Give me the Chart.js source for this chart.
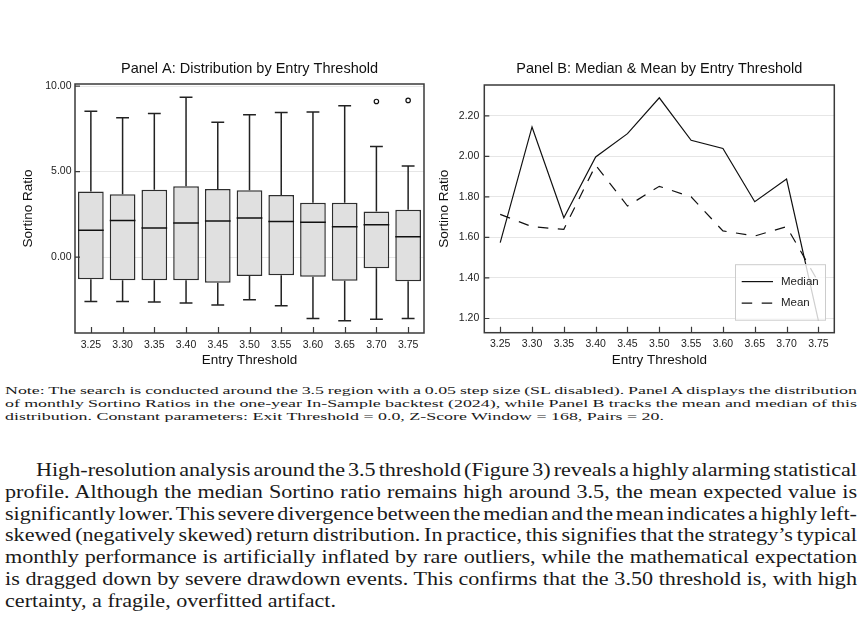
<!DOCTYPE html>
<html>
<head>
<meta charset="utf-8">
<script src="https://cdn.jsdelivr.net/npm/chart.js@4.4.0/dist/chart.umd.min.js"></script>
<style>
html, body { margin: 0; padding: 0; background: #fff; width: 862px; height: 630px; overflow: hidden; }
.panel { position: absolute; top: 50px; width: 431px; height: 320px; }
#wrapA { left: 0; }
#wrapB { left: 431px; }
.txt { position: absolute; left: 5px; font-family: "Liberation Serif", "Times New Roman", serif; color: #1a1a1a; transform-origin: 0 0; }
.txt div { white-space: nowrap; }
.txt .j { text-align: justify; text-align-last: justify; }
#note { top: 384px; font-size: 11px; line-height: 13px; }
#para { top: 460px; font-size: 18px; line-height: 21.8px; }
</style>
</head>
<body>
<div class="panel" id="wrapA"><canvas id="chartA" width="431" height="320"></canvas></div>
<div class="panel" id="wrapB"><canvas id="chartB" width="431" height="320"></canvas></div>

<div class="txt" id="note">
  <div class="j"><span>Note: The search is conducted around the 3.5 region with a 0.05 step size (SL disabled). Panel A displays the distribution</span></div>
  <div class="j"><span>of monthly Sortino Ratios in the one-year In-Sample backtest (2024), while Panel B tracks the mean and median of this</span></div>
  <div><span>distribution. Constant parameters: Exit Threshold = 0.0, Z-Score Window = 168, Pairs = 20.</span></div>
</div>

<div class="txt" id="para">
  <div class="j"><span>High-resolution analysis around the 3.5 threshold (Figure 3) reveals a highly alarming statistical</span></div>
  <div class="j"><span>profile. Although the median Sortino ratio remains high around 3.5, the mean expected value is</span></div>
  <div class="j"><span>significantly lower. This severe divergence between the median and the mean indicates a highly left-</span></div>
  <div class="j"><span>skewed (negatively skewed) return distribution. In practice, this signifies that the strategy’s typical</span></div>
  <div class="j"><span>monthly performance is artificially inflated by rare outliers, while the mathematical expectation</span></div>
  <div class="j"><span>is dragged down by severe drawdown events. This confirms that the 3.50 threshold is, with high</span></div>
  <div><span>certainty, a fragile, overfitted artifact.</span></div>
</div>

<script>
// entry thresholds (x categories)
const thresholds = ['3.25', '3.30', '3.35', '3.40', '3.45', '3.50', '3.55', '3.60', '3.65', '3.70', '3.75'];

// Panel A: monthly Sortino ratio distribution per threshold
const whiskerLow = [-2.60, -2.60, -2.62, -2.68, -2.81, -2.50, -2.85, -3.59, -3.73, -3.63, -3.59];
const q1 = [-1.29, -1.35, -1.35, -1.35, -1.50, -1.11, -1.07, -1.15, -1.39, -0.66, -1.41];
const q3 = [3.83, 3.67, 3.93, 4.14, 3.98, 3.91, 3.63, 3.18, 3.18, 2.66, 2.77];
const whiskerHigh = [8.52, 8.14, 8.40, 9.34, 7.89, 8.32, 8.46, 8.48, 8.85, 6.46, 5.33];
const outliers = [null, null, null, null, null, null, null, null, null, 9.10, 9.16];

// Panel B: median and mean of the distribution
const medianSortino = [1.574, 2.145, 1.697, 1.997, 2.112, 2.289, 2.079, 2.039, 1.776, 1.888, 1.19];
const meanSortino = [1.714, 1.653, 1.640, 1.956, 1.755, 1.852, 1.800, 1.632, 1.607, 1.653, 1.38];

// axis ticks
const ticksA = [0, 5, 10];
const ticksB = [1.2, 1.4, 1.6, 1.8, 2.0, 2.2];

const sans = "'Liberation Sans', Arial, sans-serif";
const ink = '#222';

// box frame around the plot area + inward tick marks
const frame = {
    id: 'frame',
    afterDatasetsDraw: (chart) => {
        const ctx = chart.ctx;
        const a = chart.chartArea;
        const xs = chart.scales.x;
        const ys = chart.scales.y;
        ctx.save();
        ctx.strokeStyle = '#3a3a3a';
        ctx.lineWidth = 1.2;
        ctx.beginPath();
        for (let i = 0; i < xs.ticks.length; i++) {
            let px = Math.round(xs.getPixelForTick(i)) + 0.5;
            ctx.moveTo(px, a.bottom);
            ctx.lineTo(px, a.bottom - 6);
        }
        ys.ticks.forEach(function (t) {
            let py = ys.getPixelForValue(t.value);
            ctx.moveTo(a.left, py);
            ctx.lineTo(a.left + 5, py);
        });
        ctx.stroke();
        ctx.lineWidth = 1.5;
        ctx.strokeRect(a.left, a.top, a.right - a.left, a.bottom - a.top);
        ctx.restore();
    }
};

// whiskers, caps and medians for the box plot
const boxWhiskers = {
    id: 'boxWhiskers',
    beforeDatasetsDraw: (chart) => {
        const ctx = chart.ctx;
        const ys = chart.scales.y;
        const bars = chart.getDatasetMeta(0).data;
        ctx.save();
        ctx.strokeStyle = ink;
        ctx.lineWidth = 1.5;
        ctx.beginPath();
        for (let i = 0; i < thresholds.length; i++) {
            let cx = bars[i].x;
            let half = bars[i].width / 4;
            let yHi = ys.getPixelForValue(whiskerHigh[i]);
            let yLo = ys.getPixelForValue(whiskerLow[i]);
            ctx.moveTo(cx, ys.getPixelForValue(q3[i]));
            ctx.lineTo(cx, yHi);
            ctx.moveTo(cx - half, yHi);
            ctx.lineTo(cx + half, yHi);
            ctx.moveTo(cx, ys.getPixelForValue(q1[i]));
            ctx.lineTo(cx, yLo);
            ctx.moveTo(cx - half, yLo);
            ctx.lineTo(cx + half, yLo);
        }
        ctx.stroke();
        ctx.restore();
    },
    afterDatasetsDraw: (chart) => {
        const ctx = chart.ctx;
        const ys = chart.scales.y;
        const bars = chart.getDatasetMeta(0).data;
        ctx.save();
        ctx.strokeStyle = '#111';
        ctx.lineWidth = 1.5;
        ctx.beginPath();
        for (let i = 0; i < thresholds.length; i++) {
            let py = ys.getPixelForValue(medianSortino[i]);
            ctx.moveTo(bars[i].x - bars[i].width / 2, py);
            ctx.lineTo(bars[i].x + bars[i].width / 2, py);
        }
        ctx.stroke();
        ctx.restore();
    }
};

// framed legend in the lower right of panel B
const legendBox = {
    id: 'legendBox',
    afterDatasetsDraw: (chart) => {
        const ctx = chart.ctx;
        const a = chart.chartArea;
        const w = 91, h = 56.5;
        const left = a.right - 8.3 - w;
        const top = a.bottom - 12 - h;
        ctx.save();
        ctx.fillStyle = 'rgba(255, 255, 255, 0.8)';
        ctx.fillRect(left, top, w, h);
        ctx.strokeStyle = '#cccccc';
        ctx.lineWidth = 1;
        ctx.strokeRect(left + 0.5, top + 0.5, w - 1, h - 1);
        chart.data.datasets.forEach(function (ds, i) {
            let py = top + 17.4 + i * 21.6;
            ctx.strokeStyle = ds.borderColor;
            ctx.lineWidth = ds.borderWidth;
            ctx.setLineDash(ds.borderDash || []);
            ctx.beginPath();
            ctx.moveTo(left + 6.7, py);
            ctx.lineTo(left + 38, py);
            ctx.stroke();
            ctx.setLineDash([]);
            ctx.fillStyle = ink;
            ctx.font = '11.5px ' + sans;
            ctx.textBaseline = 'middle';
            ctx.fillText(ds.label, left + 46, py);
        });
        ctx.restore();
    }
};

function xAxis(height) {
    return {
        type: 'category',
        offset: true,
        afterFit: (s) => { s.height = height; },
        grid: { display: false, drawTicks: false },
        border: { display: false },
        ticks: { color: ink, padding: 5.4, font: { family: sans, size: 10.5 }, maxRotation: 0 },
        title: { display: true, text: 'Entry Threshold', color: '#111', font: { family: sans, size: 13.5 }, padding: { top: 0, bottom: 1.9 } }
    };
}

function yAxis(min, max, ticks, width, padTick, padTitle) {
    return {
        min: min,
        max: max,
        afterBuildTicks: (s) => { s.ticks = ticks.map(v => ({ value: v })); },
        afterFit: (s) => { s.width = width; },
        grid: { color: '#e6e6e6', lineWidth: 1, drawTicks: false },
        border: { display: false },
        ticks: {
            color: ink, padding: padTick, font: { family: sans, size: 10.5 },
            callback: function (value) { return Number(value).toFixed(2); }
        },
        title: { display: true, text: 'Sortino Ratio', color: '#111', font: { family: sans, size: 13.5 }, padding: { top: padTitle, bottom: 0 } }
    };
}

function titleOpts(text, padBottom) {
    return {
        display: true,
        fullSize: false,
        text: text,
        color: '#111',
        font: { family: sans, size: 14.5, weight: 'normal' },
        padding: { top: 10.3, bottom: padBottom }
    };
}

new Chart(document.getElementById('chartA'), {
    type: 'bar',
    data: {
        labels: thresholds,
        datasets: [
            {
                label: 'IQR',
                data: thresholds.map((t, i) => [q1[i], q3[i]]),
                backgroundColor: '#e0e0e0',
                borderColor: '#2e2e2e',
                borderWidth: 1.5,
                borderSkipped: false,
                barPercentage: 0.81,
                categoryPercentage: 1
            },
            {
                label: 'Outliers',
                type: 'line',
                data: outliers,
                showLine: false,
                pointRadius: 2.2,
                pointBackgroundColor: '#ffffff',
                pointBorderColor: '#111',
                pointBorderWidth: 1.2
            }
        ]
    },
    options: {
        responsive: false,
        animation: false,
        devicePixelRatio: 1,
        layout: { padding: { left: 0, right: 7, top: 0, bottom: 0 } },
        plugins: {
            legend: { display: false },
            tooltip: { enabled: false },
            title: titleOpts('Panel A: Distribution by Entry Threshold', 6.3)
        },
        scales: {
            x: xAxis(37),
            y: yAxis(-4.44, 10.12, ticksA, 75, 3.5, 19.9)
        }
    },
    plugins: [boxWhiskers, frame]
});

new Chart(document.getElementById('chartB'), {
    type: 'line',
    data: {
        labels: thresholds,
        datasets: [
            {
                label: 'Median',
                data: medianSortino,
                borderColor: '#111',
                borderWidth: 1.2,
                pointRadius: 0,
                tension: 0,
                fill: false
            },
            {
                label: 'Mean',
                data: meanSortino,
                borderColor: '#111',
                borderWidth: 1.2,
                borderDash: [10.5, 9.5],
                pointRadius: 0,
                tension: 0,
                fill: false
            }
        ]
    },
    options: {
        responsive: false,
        animation: false,
        devicePixelRatio: 1,
        layout: { padding: { left: 0, right: 27.7, top: 0, bottom: 0 } },
        plugins: {
            legend: { display: false },
            tooltip: { enabled: false },
            title: titleOpts('Panel B: Median & Mean by Entry Threshold', 7.3)
        },
        scales: {
            x: xAxis(37.3),
            y: yAxis(1.13, 2.352, ticksB, 53.3, 5, 4.9)
        }
    },
    plugins: [frame, legendBox]
});

// scale the serif text blocks so the lines span the widths seen in the reference
function fitText(id, right, lastRight, indentAt) {
    const box = document.getElementById(id);
    const left = 5;
    const lines = box.querySelectorAll(':scope > div');
    const last = lines[lines.length - 1].firstElementChild;
    const s = (lastRight - left) / last.getBoundingClientRect().width;
    box.style.width = ((right - left) / s) + 'px';
    lines.forEach(function (ln, i) {
        let start = (i === 0 && indentAt) ? (indentAt - left) / s : 0;
        if (start) ln.style.textIndent = start + 'px';
        if (!ln.classList.contains('j')) return;
        let span = ln.firstElementChild;
        let natural = span.getBoundingClientRect().width;
        let avail = (right - left) / s - start;
        let gaps = (span.textContent.match(/ /g) || []).length;
        if (natural > avail && gaps) ln.style.wordSpacing = ((avail - natural) / gaps - 0.05) + 'px';
    });
    box.style.transform = 'scaleX(' + s + ')';
}

fitText('note', 857, 664, 0);
fitText('para', 857, 336, 36);
</script>
</body>
</html>
